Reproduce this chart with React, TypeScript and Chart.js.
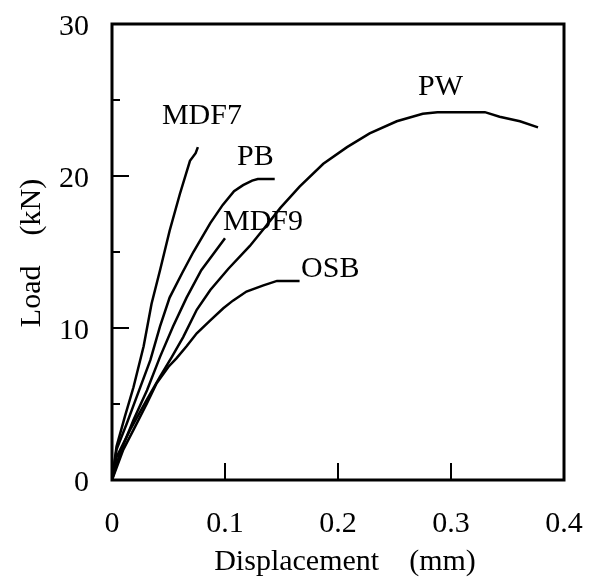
import React, { useEffect, useRef } from "react";
import { Chart, registerables } from "chart.js";

Chart.register(...registerables);

const X_TICKS = [0, 0.1, 0.2, 0.3, 0.4];
const X_TICK_LABELS = ["0", "0.1", "0.2", "0.3", "0.4"];
const Y_TICKS = [0, 10, 20, 30];
const Y_TICK_LABELS = ["0", "10", "20", "30"];
const Y_MINOR_TICKS = [5, 15, 25];

const X_TITLE = "Displacement    (mm)";
const Y_TITLE = "Load    (kN)";

const MDF7_X = [0, 0.004, 0.0115, 0.019, 0.028, 0.035, 0.0425, 0.051, 0.060, 0.069, 0.074, 0.076];
const MDF7_Y = [0, 2.2, 4.2, 6.1, 8.8, 11.6, 13.8, 16.4, 18.8, 21.0, 21.5, 21.9];

const PB_X = [0, 0.004, 0.013, 0.022, 0.034, 0.0425, 0.051, 0.062, 0.072, 0.087, 0.098, 0.108, 0.116, 0.124, 0.129, 0.144];
const PB_Y = [0, 2.0, 3.7, 5.5, 7.9, 10.1, 12.0, 13.6, 15.0, 16.9, 18.1, 19.0, 19.4, 19.7, 19.8, 19.8];

const MDF9_X = [0, 0.007, 0.019, 0.031, 0.0425, 0.054, 0.066, 0.079, 0.090, 0.100];
const MDF9_Y = [0, 1.75, 3.95, 5.9, 8.1, 10.1, 12.0, 13.8, 14.9, 15.9];

const PW_X = [0, 0.004, 0.016, 0.031, 0.0425, 0.053, 0.063, 0.075, 0.087, 0.103, 0.122, 0.134, 0.149, 0.166, 0.187, 0.208, 0.228, 0.252, 0.275, 0.288, 0.330, 0.343, 0.361, 0.377];
const PW_Y = [0, 1.5, 3.3, 5.3, 6.8, 8.1, 9.4, 11.2, 12.5, 13.9, 15.4, 16.5, 17.9, 19.3, 20.8, 21.9, 22.8, 23.6, 24.1, 24.2, 24.2, 23.9, 23.6, 23.2];

const OSB_X = [0, 0.010, 0.019, 0.031, 0.0395, 0.050, 0.057, 0.066, 0.075, 0.087, 0.0985, 0.107, 0.119, 0.134, 0.146, 0.166];
const OSB_Y = [0, 2.0, 3.3, 5.05, 6.36, 7.45, 8.0, 8.8, 9.65, 10.5, 11.3, 11.8, 12.4, 12.8, 13.1, 13.1];

const SERIES_NAMES = ["MDF7", "PB", "MDF9", "PW", "OSB"];
const SERIES_X = [MDF7_X, PB_X, MDF9_X, PW_X, OSB_X];
const SERIES_Y = [MDF7_Y, PB_Y, MDF9_Y, PW_Y, OSB_Y];
// label anchor (left edge, baseline) in data units
const LABEL_X = [0.0442, 0.1106, 0.0982, 0.2708, 0.1673];
const LABEL_Y = [23.42, 20.72, 16.45, 25.33, 13.36];

const FONT = "30px 'Liberation Serif', 'Times New Roman', serif";

const framePlugin = {
  id: "frame",
  afterDraw(chart: any) {
    const { ctx, chartArea, scales } = chart;
    const xs = scales.x;
    const ys = scales.y;
    const { left, right, top, bottom } = chartArea;
    ctx.save();
    ctx.strokeStyle = "#000";
    ctx.fillStyle = "#000";
    ctx.lineWidth = 3;
    ctx.strokeRect(left, top, right - left, bottom - top);
    ctx.lineWidth = 2;
    X_TICKS.forEach((v) => {
      const px = Math.round(xs.getPixelForValue(v));
      if (v > xs.min && v < xs.max) {
        ctx.beginPath();
        ctx.moveTo(px, bottom);
        ctx.lineTo(px, bottom - 17);
        ctx.stroke();
      }
    });
    Y_TICKS.forEach((v) => {
      const py = Math.round(ys.getPixelForValue(v));
      if (v > ys.min && v < ys.max) {
        ctx.beginPath();
        ctx.moveTo(left, py);
        ctx.lineTo(left + 17, py);
        ctx.stroke();
      }
    });
    Y_MINOR_TICKS.forEach((v) => {
      const py = Math.round(ys.getPixelForValue(v));
      ctx.beginPath();
      ctx.moveTo(left, py);
      ctx.lineTo(left + 8, py);
      ctx.stroke();
    });
    ctx.font = FONT;
    ctx.textBaseline = "alphabetic";
    ctx.textAlign = "center";
    X_TICKS.forEach((v, i) => {
      ctx.fillText(X_TICK_LABELS[i], xs.getPixelForValue(v), bottom + 52);
    });
    ctx.textAlign = "right";
    Y_TICKS.forEach((v, i) => {
      ctx.fillText(Y_TICK_LABELS[i], left - 23, ys.getPixelForValue(v) + 11);
    });
    ctx.textAlign = "center";
    ctx.fillText(X_TITLE, (left + right) / 2 + 7, bottom + 90);
    ctx.save();
    ctx.translate(40, (top + bottom) / 2 + 1);
    ctx.rotate(-Math.PI / 2);
    ctx.fillText(Y_TITLE, 0, 0);
    ctx.restore();
    ctx.textAlign = "left";
    SERIES_NAMES.forEach((name, i) => {
      ctx.fillText(name, xs.getPixelForValue(LABEL_X[i]), ys.getPixelForValue(LABEL_Y[i]));
    });
    ctx.restore();
  },
};

export default function App() {
  const ref = useRef<HTMLCanvasElement | null>(null);
  useEffect(() => {
    if (!ref.current) return;
    const datasets = SERIES_NAMES.map((name, i) => ({
      label: name,
      data: SERIES_X[i].map((x, j) => ({ x, y: SERIES_Y[i][j] })),
      showLine: true,
      borderColor: "#000",
      backgroundColor: "#000",
      borderWidth: 2.5,
      pointRadius: 0,
      tension: 0,
      fill: false,
    }));
    const chart = new Chart(ref.current, {
      type: "scatter",
      data: { datasets },
      options: {
        responsive: false,
        animation: false,
        devicePixelRatio: 1,
        layout: { padding: { left: 112, top: 24, right: 25, bottom: 101 } },
        plugins: { legend: { display: false }, tooltip: { enabled: false } },
        scales: {
          x: { type: "linear", min: 0, max: 0.4, display: false },
          y: { type: "linear", min: 0, max: 30, display: false },
        },
      },
      plugins: [framePlugin],
    });
    return () => chart.destroy();
  }, []);
  return (
    <div style={{ position: "fixed", left: 0, top: 0, width: 589, height: 581, background: "#fff" }}>
      <canvas ref={ref} width={589} height={581} style={{ display: "block" }} />
    </div>
  );
}
